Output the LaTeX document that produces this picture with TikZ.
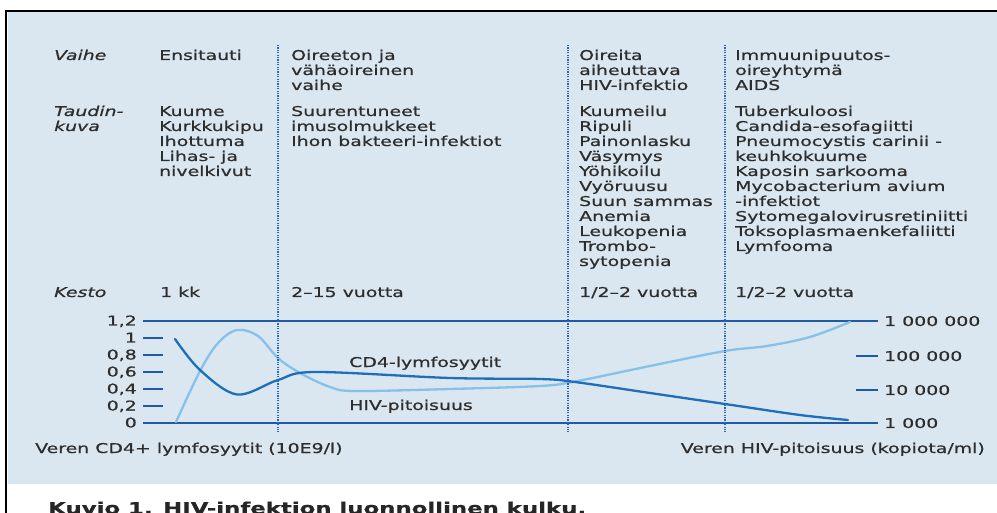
\documentclass[tikz,border=0pt]{standalone}
\usepackage{fontspec}
\setmainfont{DejaVu Sans}[FakeStretch=1.4, FakeBold=0.7]
\definecolor{bg}{RGB}{218,231,240}
\definecolor{txt}{RGB}{45,45,45}
\definecolor{axisc}{RGB}{30,90,165}
\definecolor{cdfour}{RGB}{30,110,185}
\definecolor{hivc}{RGB}{135,192,235}
\definecolor{dotc}{RGB}{40,100,185}
\newcommand{\cellx}[1]{\begin{tabular}[t]{@{}l@{}}#1\end{tabular}}
\tikzset{
  txtnode/.style={anchor=base west, inner sep=0pt, text=txt, font=\fontsize{13.5}{15}\selectfont},
  lblnode/.style={txtnode, font=\fontsize{13.5}{15}\selectfont\itshape},
  ticklbl/.style={anchor=base east, inner sep=0pt, text=txt, font=\fontsize{13.5}{15}\selectfont},
  rticklbl/.style={anchor=base west, inner sep=0pt, text=txt, font=\fontsize{13.5}{15}\selectfont},
  dotline/.style={dotc, line width=1.3pt, dash pattern=on 1.2pt off 1.2pt},
  axisline/.style={axisc, line width=1.2pt},
  curve/.style={line width=2.3pt, line cap=round},
}
\begin{document}
\begin{tikzpicture}[x=1pt,y=-1pt]
\clip (0,0) rectangle (997,513);
\fill[white] (0,0) rectangle (997,513);
\fill[bg] (8,12) rectangle (997,484);
\draw[black, line width=2pt] (6,513) -- (6,11) -- (997,11);

% row labels
\node[lblnode] (vaihe) at (54,60) {Vaihe};
\node[lblnode] (taudin) at (54,116) {\cellx{Taudin-\\kuva}};
\node[lblnode] (kesto) at (54,297) {Kesto};

% column 1
\node[txtnode] (v1) at (159,60) {Ensitauti};
\node[txtnode] (t1) at (159,116) {\cellx{Kuume\\Kurkkukipu\\Ihottuma\\Lihas- ja\\nivelkivut}};
\node[txtnode] (k1) at (160,297) {1 kk};

% column 2
\node[txtnode] (v2) at (291,60) {\cellx{Oireeton ja\\vähäoireinen\\vaihe}};
\node[txtnode] (t2) at (291,116) {\cellx{Suurentuneet\\imusolmukkeet\\Ihon bakteeri-infektiot}};
\node[txtnode] (k2) at (291,297) {2–15 vuotta};

% column 3
\node[txtnode] (v3) at (579,60) {\cellx{Oireita\\aiheuttava\\HIV-infektio}};
\node[txtnode] (t3) at (579,116) {\cellx{Kuumeilu\\Ripuli\\Painonlasku\\Väsymys\\Yöhikoilu\\Vyöruusu\\Suun sammas\\Anemia\\Leukopenia\\Trombo-\\sytopenia}};
\node[txtnode] (k3) at (579,297) {1/2–2 vuotta};

% column 4
\node[txtnode] (v4) at (735,60) {\cellx{Immuunipuutos-\\oireyhtymä\\AIDS}};
\node[txtnode] (t4) at (735,116) {\cellx{Tuberkuloosi\\Candida-esofagiitti\\Pneumocystis carinii -\\keuhkokuume\\Kaposin sarkooma\\Mycobacterium avium\\-infektiot\\Sytomegalovirusretiniitti\\Toksoplasmaenkefaliitti\\Lymfooma}};
\node[txtnode] (k4) at (735,297) {1/2–2 vuotta};

% axes
\draw[axisline] (143,321) -- (878,321);
\draw[axisline] (143,423) -- (878,423);
\foreach \yy in {338,355,372,389,406} \draw[axisline] (143,\yy) -- (163,\yy);
\draw[axisline] (856,356) -- (878,356);
\draw[axisline] (856,390) -- (878,390);

\node[ticklbl] (l12) at (137,325.5) {1,2};
\node[ticklbl] (l10) at (137,342.5) {1};
\node[ticklbl] (l08) at (137,359.5) {0,8};
\node[ticklbl] (l06) at (137,376.5) {0,6};
\node[ticklbl] (l04) at (137,393.5) {0,4};
\node[ticklbl] (l02) at (137,410.5) {0,2};
\node[ticklbl] (l00) at (137,427.5) {0};

\node[rticklbl] (r6) at (884,326) {1 000 000};
\node[rticklbl] (r5) at (884,361) {100 000};
\node[rticklbl] (r4) at (884,395) {10 000};
\node[rticklbl] (r3) at (884,428) {1 000};

\node[txtnode] (xl) at (35,453) {Veren CD4+ lymfosyytit (10E9/l)};
\node[txtnode, anchor=base east] (xr) at (985,453) {Veren HIV-pitoisuus (kopiota/ml)};

% curves
\draw[curve, hivc] plot[smooth, tension=0.55] coordinates {(176,422) (200,371) (218,343) (237,330) (258,336) (278,358) (300,373) (330,387) (355,391) (450,389) (540,386) (575,381.5) (650,366) (725,351) (767,346) (810,337) (850,322)};
\draw[curve, cdfour] plot[smooth, tension=0.55] coordinates {(175,339) (200,370) (237,394.5) (278,380) (315,372) (450,378) (540,379) (575,382) (650,393) (725,404) (800,415) (848,420)};

\node[txtnode] (cd4) at (349,367) {CD4-lymfosyytit};
\node[txtnode] (hiv) at (349,410) {HIV-pitoisuus};

% dotted separators
\draw[dotline] (278,45) -- (278,432);
\draw[dotline] (568,45) -- (568,432);
\draw[dotline] (725,45) -- (725,432);

% caption (cut off at the lower edge, as in the original)
\node[anchor=base west, inner sep=0pt, text=black!85, font=\fontsize{16.3}{18}\selectfont\bfseries] (cap) at (48,514) {Kuvio 1. HIV-infektion luonnollinen kulku.};
\end{tikzpicture}
\end{document}
